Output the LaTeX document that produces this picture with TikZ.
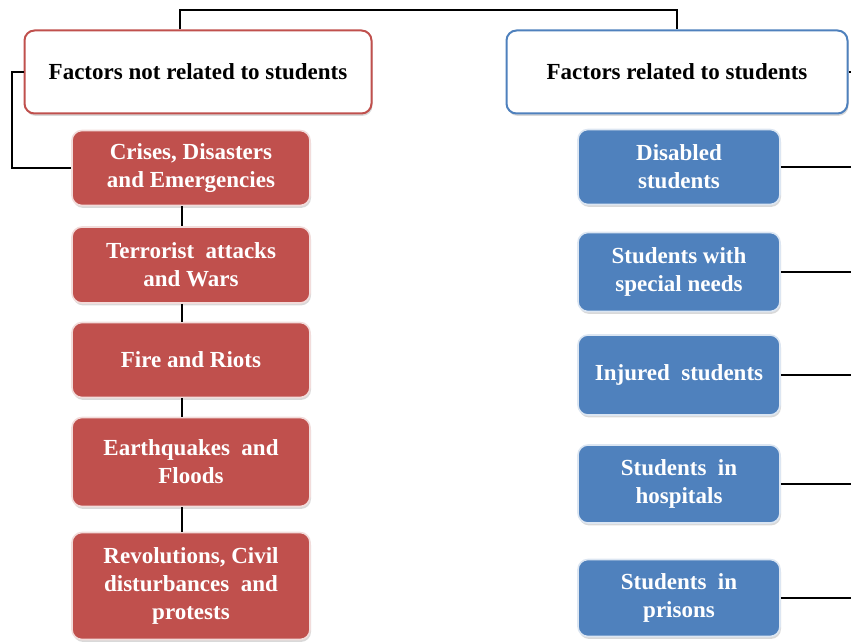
\documentclass[tikz,border=0pt]{standalone}
\usepackage{fontspec}
\setmainfont{Liberation Serif}
\usepackage{tikz}
\usetikzlibrary{shapes.misc}
\usetikzlibrary{shadows}
\definecolor{redfill}{HTML}{C0504D}
\definecolor{bluefill}{HTML}{4F81BD}
\tikzstyle{box}=[rounded corners=5pt, inner sep=2pt, align=center, font=\bfseries\fontsize{11.5}{14}\selectfont, drop shadow={shadow xshift=0.5pt, shadow yshift=-1.2pt, opacity=0.3}]
\tikzstyle{header}=[box, fill=white, line width=1pt, minimum height=41.5pt]
\tikzstyle{rbox}=[box, fill=redfill, draw=white!80!redfill, line width=0.8pt, text=white, minimum width=119pt]
\tikzstyle{bbox}=[box, fill=bluefill, draw=white!80!bluefill, line width=0.8pt, text=white, minimum width=101pt]
\tikzstyle{link}=[line width=0.9pt]

\begin{document}
\begin{tikzpicture}[x=0.5pt, y=-0.5pt]
        \useasboundingbox (0, 0) rectangle (851, 642);
        \node[header, draw=redfill, minimum width=173.5pt] (LH) at (198, 72) {Factors not related to students};
        \node[header, draw=bluefill, minimum width=170.5pt] (RH) at (677, 72) {Factors related to students};
        \coordinate (top) at (180, 10);
        \coordinate (spine) at (182, 0);
        \coordinate (edge) at (851, 0);
        \coordinate (bend) at (12, 0);
        \draw[link, line width=1.3pt] (LH.north -| top) -- (top) -- (top -| RH.north) -- (RH.north);
        \node[rbox, minimum height=37.5pt] (R1) at (191, 168) {Crises, Disasters\\and Emergencies};
        \node[rbox, minimum height=38pt] (R2) at (191, 265) {Terrorist~ attacks\\and Wars};
        \node[rbox, minimum height=37.5pt] (R3) at (191, 360) {Fire and Riots};
        \node[rbox, minimum height=44.5pt] (R4) at (191, 462) {Earthquakes~ and\\Floods};
        \node[rbox, minimum height=53.5pt] (R5) at (191, 586) {Revolutions, Civil\\disturbances~ and\\protests};
        \node[bbox, minimum height=37.5pt] (B1) at (679, 167) {Disabled\\students};
        \node[bbox, minimum height=39.5pt] (B2) at (679, 272) {Students with\\special needs};
        \node[bbox, minimum height=40pt] (B3) at (679, 375) {Injured~ students};
        \node[bbox, minimum height=39pt] (B4) at (679, 484) {Students~ in\\hospitals};
        \node[bbox, minimum height=38.5pt] (B5) at (679, 598) {Students~ in\\prisons};
        \draw[link] (LH.west) -- (LH.west -| bend) -- (R1.west -| bend) -- (R1.west);
        \foreach \a/\b in {R1/R2, R2/R3, R3/R4, R4/R5}
            \draw[link] (\a.south -| spine) -- (\b.north -| spine);
        \foreach \n in {RH, B1, B2, B3, B4, B5}
            \draw[link] (\n.east) -- (\n.east -| edge);
    \end{tikzpicture}
\end{document}
